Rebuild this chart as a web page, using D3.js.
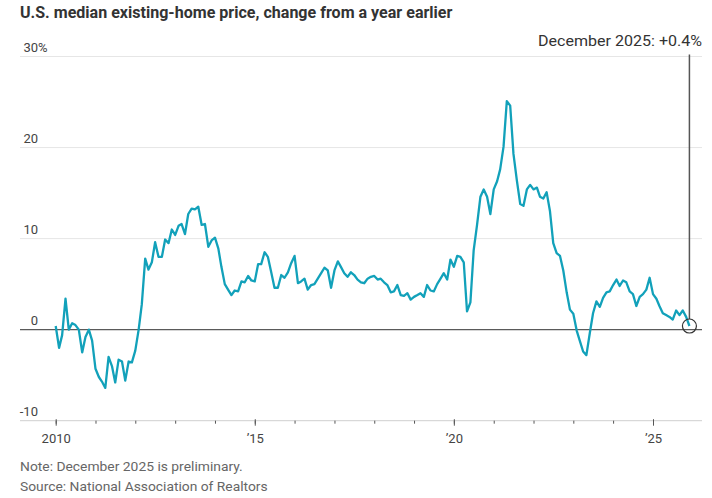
<!DOCTYPE html>
<html>
<head>
<meta charset="utf-8">
<script src="https://cdn.jsdelivr.net/npm/d3@7"></script>
<style>
  body { margin: 0; background: #fff; }
  svg { display: block; font-family: Roboto, 'Noto Sans', sans-serif; }
</style>
</head>
<body>
<div id="chart"></div>
<script>
// Home price chart //////////////////////////////////////////////////////////

///////////////////////////////////////////////////////////////////////////////

// monthly series, first value is January 2010
var startYear = 2010;
var yoyChange = [
  0.4, -2.0, -0.6, 3.4, 0.0, 0.7, 0.5, 0.0, -2.5, -0.8, 0.0, -1.2,      // 2010
  -4.3, -5.2, -5.7, -6.4, -3.0, -4.0, -5.8, -3.3, -3.5, -5.6, -3.5, -3.6, // 2011
  -2.3, 0.0, 2.8, 7.8, 6.6, 7.4, 9.6, 8.0, 8.0, 9.9, 9.5, 11.0,        // 2012
  10.4, 11.4, 11.6, 10.5, 12.7, 13.3, 13.2, 13.5, 11.5, 11.6, 9.1, 9.8, // 2013
  10.1, 8.9, 6.9, 5.0, 4.4, 3.8, 4.3, 4.2, 5.3, 5.2, 5.9, 5.4,         // 2014
  5.3, 7.2, 7.2, 8.5, 8.0, 6.3, 4.6, 4.6, 6.0, 5.7, 6.3, 7.3,          // 2015
  8.1, 5.1, 5.3, 5.6, 4.4, 4.9, 5.0, 5.6, 6.2, 6.8, 6.5, 4.6,          // 2016
  6.5, 7.5, 6.9, 6.2, 5.8, 6.3, 6.0, 5.5, 5.2, 5.1, 5.6, 5.8,          // 2017
  5.9, 5.5, 5.6, 5.2, 4.9, 4.1, 4.2, 4.9, 3.8, 3.7, 4.0, 3.3,          // 2018
  3.6, 3.8, 4.0, 3.6, 4.9, 4.3, 4.2, 5.0, 5.6, 6.2, 5.5, 7.7,          // 2019
  6.9, 8.1, 8.0, 7.4, 2.0, 3.0, 8.7, 11.5, 14.6, 15.4, 14.6, 12.7,     // 2020
  15.4, 16.3, 17.6, 20.1, 25.1, 24.6, 19.3, 16.4, 13.8, 13.6, 15.4, 15.9, // 2021
  15.4, 15.6, 14.6, 14.4, 15.1, 13.0, 9.5, 8.4, 8.1, 6.5, 4.1, 2.2,    // 2022
  1.75, -0.1, -1.2, -2.4, -2.8, -0.4, 1.8, 3.1, 2.5, 3.5, 4.1, 4.2,    // 2023
  4.9, 5.5, 4.8, 5.4, 5.2, 4.2, 3.9, 2.6, 3.6, 3.9, 4.4, 5.7,          // 2024
  3.9, 3.4, 2.6, 1.8, 1.6, 1.4, 1.1, 2.1, 1.6, 2.1, 1.4, 0.4           // 2025
];

var yTicks = [-10, 0, 10, 20, 30];
var yearTicks = d3.range(2010, 2026);
var majorYears = [2010, 2015, 2020, 2025];
var majorLabels = ['2010', '\u201915', '\u201920', '\u201925'];

var titleText = 'U.S. median existing-home price, change from a year earlier';
var lastLabel = 'December 2025: +0.4%';
var noteText = 'Note: December 2025 is preliminary.';
var sourceText = 'Source: National Association of Realtors';

///////////////////////////////////////////////////////////////////////////////

var width = 712;
var height = 498;
var left = 20;
var right = 702;
var lineColor = '#12a1ba';

var svg = d3.select('#chart').append('svg')
  .attr('width', width)
  .attr('height', height);

var x = d3.scaleTime()
  .domain([new Date(2010, 0, 1), new Date(2026, 0, 1)])
  .range([55.7, 692.8]);

var y = d3.scaleLinear()
  .domain([-10, 30])
  .range([420.7, 56.5]);

var data = yoyChange.map(function(v, i){
  return { date: new Date(startYear, i, 1), value: v };
});

///////////////////////////////////////////////////////////////////////////////

drawGrid();
drawXAxis();
drawLine();
drawLabels();

///////////////////////////////////////////////////////////////////////////////

function fitWidth(text, w) {
  var x0 = +text.attr('x');
  var k = w / text.node().getComputedTextLength();
  text.attr('transform', 'translate(' + x0 + ',0) scale(' + k + ',1) translate(' + (-x0) + ',0)');
}

function drawGrid() {
  var grid = svg.append('g');

  grid.selectAll('line')
    .data(yTicks)
    .enter().append('line')
    .attr('x1', left)
    .attr('x2', right)
    .attr('y1', function(d){ return y(d); })
    .attr('y2', function(d){ return y(d); })
    .style('stroke', function(d){
      if(d === 0) return '#5a5a5a';
      if(d === -10) return '#cfcfcf';
      return '#e6e6e6';
    })
    .style('stroke-width', function(d){ return d === 0 ? 1.3 : 1; });

  grid.selectAll('text')
    .data(yTicks)
    .enter().append('text')
    .attr('x', 38)
    .attr('y', function(d){ return y(d) - 5; })
    .attr('text-anchor', 'end')
    .style('font-size', '13px')
    .style('fill', '#444')
    .text(function(d){ return d; });

  grid.append('text')
    .attr('x', 38)
    .attr('y', y(30) - 5)
    .style('font-size', '13px')
    .style('fill', '#444')
    .text('%');
}

function drawXAxis() {
  var minor = svg.append('g')
    .attr('transform', 'translate(0,' + y(-10) + ')')
    .call(d3.axisBottom(x)
      .tickValues(yearTicks.map(function(d){ return new Date(d, 0, 1); }))
      .tickSize(3)
      .tickFormat(''));

  var major = svg.append('g')
    .attr('transform', 'translate(0,' + y(-10) + ')')
    .call(d3.axisBottom(x)
      .tickValues(majorYears.map(function(d){ return new Date(d, 0, 1); }))
      .tickSize(5)
      .tickPadding(8)
      .tickFormat(function(d, i){ return majorLabels[i]; }));

  svg.selectAll('.domain').remove();
  minor.selectAll('line').style('stroke', '#555');
  major.selectAll('line').attr('y1', -1.5).style('stroke', '#555');
  major.selectAll('text')
    .style('font-family', "Roboto, 'Noto Sans', sans-serif")
    .style('font-size', '13px')
    .style('fill', '#444');
}

function drawLine() {
  var line = d3.line()
    .x(function(d){ return x(d.date); })
    .y(function(d){ return y(d.value); });

  svg.append('path')
    .datum(data)
    .attr('d', line)
    .style('fill', 'none')
    .style('stroke', lineColor)
    .style('stroke-width', 2.3)
    .style('stroke-linejoin', 'round');

  var last = data[data.length - 1];

  svg.append('line')
    .attr('x1', x(last.date))
    .attr('x2', x(last.date))
    .attr('y1', y(30) - 2)
    .attr('y2', y(last.value) - 7)
    .style('stroke', '#555')
    .style('stroke-width', 1.5);

  svg.append('circle')
    .attr('cx', x(last.date))
    .attr('cy', y(last.value))
    .attr('r', 7)
    .style('fill', 'none')
    .style('stroke', '#333')
    .style('stroke-width', 1.2);
}

function drawLabels() {
  var title = svg.append('text')
    .attr('x', 20)
    .attr('y', 18)
    .style('font-size', '16px')
    .style('font-weight', 'bold')
    .style('fill', '#333')
    .text(titleText);
  fitWidth(title, 433);

  var ann = svg.append('text')
    .attr('x', 702)
    .attr('y', 46)
    .attr('text-anchor', 'end')
    .style('font-size', '15.5px')
    .style('fill', '#333')
    .text(lastLabel);
  fitWidth(ann, 164);

  var note = svg.append('text')
    .attr('x', 20)
    .attr('y', 471)
    .style('font-size', '13px')
    .style('fill', '#666')
    .text(noteText);
  fitWidth(note, 223);

  var source = svg.append('text')
    .attr('x', 20)
    .attr('y', 491)
    .style('font-size', '13px')
    .style('fill', '#666')
    .text(sourceText);
  fitWidth(source, 248);
}
</script>
</body>
</html>
